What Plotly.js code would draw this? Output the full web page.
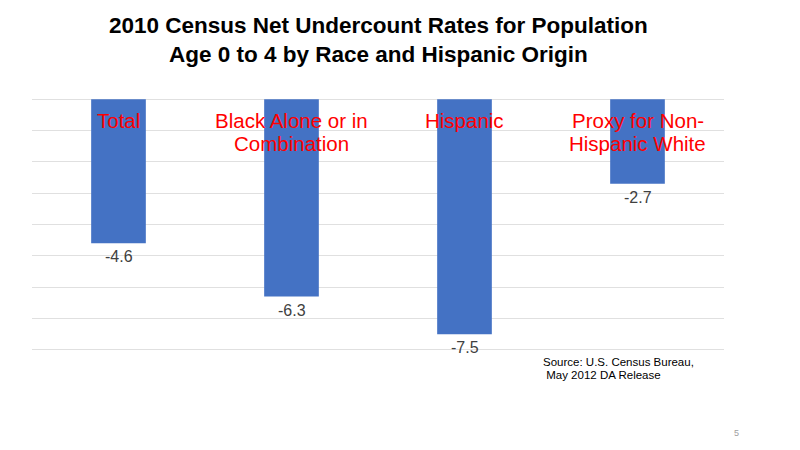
<!DOCTYPE html>
<html>
<head>
<meta charset="utf-8">
<script src="https://cdn.plot.ly/plotly-3.0.1.min.js"></script>
<style>html,body{margin:0;padding:0;background:#fff;}#chart{width:800px;height:450px;}</style>
</head>
<body>
<div id="chart"></div>
<script>
const categories = ["Total", "Black Alone or in Combination", "Hispanic", "Proxy for Non-Hispanic White"];
const categoryLabelLines = [["Total"], ["Black Alone or in", "Combination"], ["Hispanic"], ["Proxy for Non-", "Hispanic White"]];
const undercountRates = [-4.6, -6.3, -7.5, -2.7];
const valueLabels = ["-4.6", "-6.3", "-7.5", "-2.7"];
const gridValues = [-8, -7, -6, -5, -4, -3, -2, -1, 0];
const chartTitle = "2010 Census Net Undercount Rates for Population<br>Age 0 to 4 by Race and Hispanic Origin";
const sourceNoteLines = ["Source: U.S. Census Bureau,", " May 2012 DA Release"];
const pageNumber = "5";

const font = "Arial, 'Liberation Sans', sans-serif";

const trace = {
  type: "bar",
  x: categories,
  y: undercountRates,
  marker: {color: "#4472C4"},
  hoverinfo: "none"
};

const annotations = [];
categories.forEach((c, i) => {
  categoryLabelLines[i].forEach((line, j) => {
    annotations.push({
      x: c, y: 0, xref: "x", yref: "y",
      text: line, showarrow: false,
      yanchor: "top", yshift: -8 - j * 23,
      font: {family: font, size: 20.5, color: "#FF0000"}
    });
  });
  annotations.push({
    x: c, y: undercountRates[i], xref: "x", yref: "y",
    text: valueLabels[i], showarrow: false,
    yanchor: "top", yshift: -3,
    font: {family: font, size: 16, color: "#404040"}
  });
});
sourceNoteLines.forEach((line, j) => {
  annotations.push({
    xref: "paper", yref: "paper", x: 0.735, y: 0,
    xanchor: "left", yanchor: "middle", align: "left",
    yshift: -9 - j * 12.5,
    text: line, showarrow: false,
    font: {family: font, size: 11.5, color: "#000000"}
  });
});
annotations.push({
  xref: "paper", yref: "paper", x: 1.018, y: -0.31,
  xanchor: "center", yanchor: "middle",
  text: pageNumber, showarrow: false,
  font: {family: font, size: 9, color: "#a0a0a0"}
});

const layout = {
  width: 800, height: 450,
  paper_bgcolor: "#ffffff", plot_bgcolor: "#ffffff",
  margin: {l: 32, r: 76, t: 96.2, b: 97.2},
  title: {
    text: chartTitle,
    font: {family: font, size: 22.5, color: "#000000", weight: "bold"},
    x: 0.473, xanchor: "center",
    yref: "container", y: 0.927, yanchor: "middle"
  },
  bargap: 0.684,
  showlegend: false,
  xaxis: {
    showticklabels: false, showgrid: false, zeroline: false, showline: false,
    ticks: ""
  },
  yaxis: {
    range: [-8.1, 0.1], tickvals: gridValues, showticklabels: false,
    showgrid: true, gridcolor: "#e0e0e0", gridwidth: 1,
    zeroline: false, showline: false, ticks: ""
  },
  annotations: annotations
};

Plotly.newPlot("chart", [trace], layout, {displayModeBar: false, staticPlot: true});
</script>
</body>
</html>
